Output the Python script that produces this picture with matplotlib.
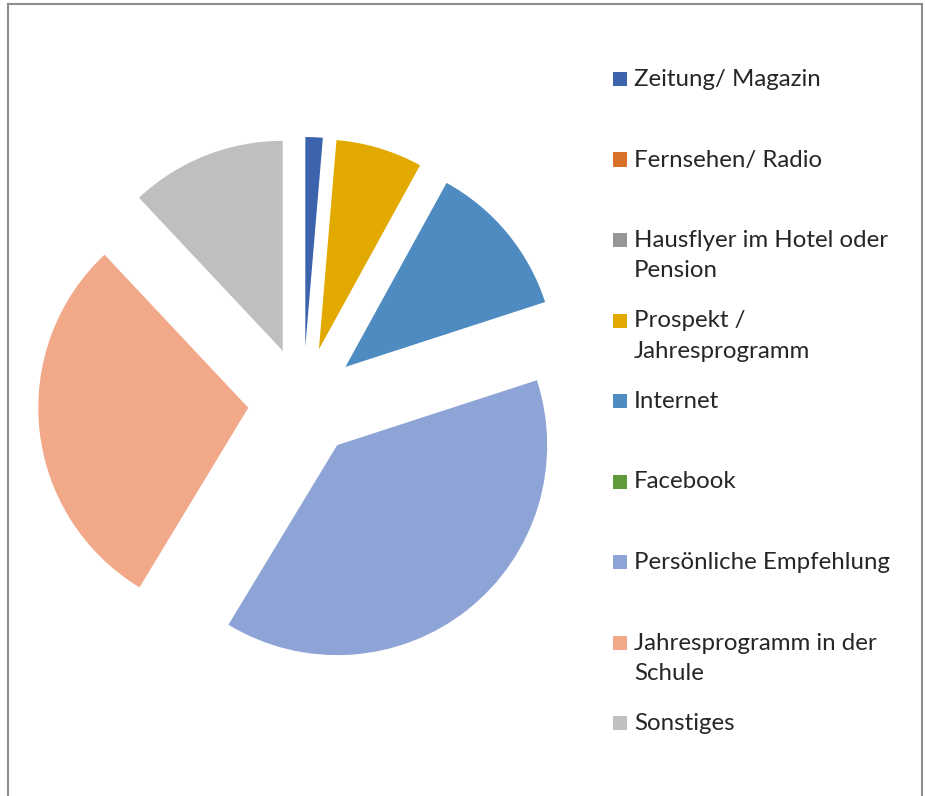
import matplotlib
matplotlib.use('Agg')
import matplotlib.pyplot as plt
from matplotlib.patches import Rectangle
from matplotlib.lines import Line2D

# Kategorien und Anzahl der Nennungen (aus dem Bild geschätzt)
labels = ['Zeitung/ Magazin', 'Fernsehen/ Radio', 'Hausflyer im Hotel oder\nPension',
          'Prospekt /\nJahresprogramm', 'Internet', 'Facebook', 'Persönliche Empfehlung',
          'Jahresprogramm in der\nSchule', 'Sonstiges']
counts = [1, 0, 0, 5, 9, 0, 29, 22, 9]
colors = ['#3B64AD', '#D9712B', '#969696', '#E2AA00', '#4E8BC0', '#5F9B3B',
          '#8FA4D6', '#F2A98A', '#BFBFBF']

W, H = 925, 796
fig = plt.figure(figsize=(W / 100, H / 100), dpi=100)

# Pie-Achse: Mittelpunkt bei ca. (303, 402) px, Radius ca. 210 px
cx, cy, r = 303, 402, 210
lim = 1.45
size = 2 * lim * r
ax = fig.add_axes([(cx - size / 2) / W, (H - cy - size / 2) / H, size / W, size / H])
ax.pie(counts, colors=colors, startangle=90, counterclock=False,
       explode=[0.262] * len(counts), wedgeprops={'linewidth': 0})
ax.set_xlim(-lim, lim)
ax.set_ylim(-lim, lim)
ax.set_aspect('equal')
ax.axis('off')

# Legende von Hand, wie in Excel: feste Zeilenabstände, Umbruch innerhalb der Zeile
y0, step = 79, 80.5
for i, (lab, col) in enumerate(zip(labels, colors)):
    yc = y0 + i * step
    fig.patches.append(Rectangle((613 / W, 1 - (yc + 7) / H), 14 / W, 14 / H,
                                 transform=fig.transFigure, facecolor=col,
                                 edgecolor='none'))
    fig.text(634 / W, 1 - (yc - 10) / H, lab, fontsize=17.3, family='Lato',
             color='#262626', va='top', ha='left', linespacing=1.55)

# Rahmen (unten abgeschnitten)
frame = dict(color='#8C8C8C', linewidth=1.5, transform=fig.transFigure)
fig.lines.append(Line2D([8 / W, 8 / W], [0, 1 - 4 / H], **frame))
fig.lines.append(Line2D([8 / W, 922 / W], [1 - 4 / H, 1 - 4 / H], **frame))
fig.lines.append(Line2D([922 / W, 922 / W], [0, 1 - 4 / H], **frame))

fig.savefig('out.png', dpi=100)
